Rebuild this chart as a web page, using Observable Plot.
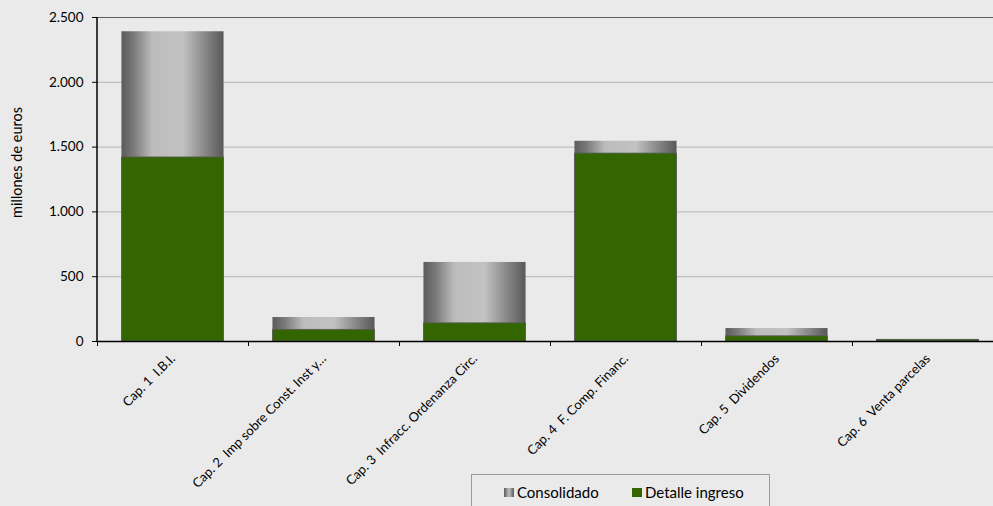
<!DOCTYPE html>
<html>
<head>
<meta charset="utf-8">
<script src="https://cdn.jsdelivr.net/npm/d3@7"></script>
<script src="https://cdn.jsdelivr.net/npm/@observablehq/plot@0.6"></script>
<style>
  html, body { margin: 0; padding: 0; background: #eaeaea; }
  #wrap { position: relative; width: 993px; height: 506px; overflow: hidden; font-family: Lato, "Open Sans", sans-serif; }
  #wrap svg text { white-space: pre; }
  #legend { position: absolute; left: 471px; top: 474px; width: 297px; height: 40px; border: 1px solid #9a9a9a; background: #eaeaea; font-size: 15px; color: #000; }
  #legend .item { position: absolute; top: 8px; display: flex; align-items: center; white-space: nowrap; }
  #legend .sw { width: 10px; height: 9px; margin-right: 3px; }
</style>
</head>
<body>
<div id="wrap"></div>
<script>
const categories = ["Cap. 1  I.B.I.", "Cap. 2  Imp sobre Const. Inst y…", "Cap. 3  Infracc. Ordenanza Circ.", "Cap. 4  F. Comp. Financ.", "Cap. 5  Dividendos", "Cap. 6  Venta parcelas"];
const consolidado = [2390, 185, 610, 1545, 100, 15];
const detalle = [1420, 90, 140, 1450, 40, 13];
const yTicks = [0, 500, 1000, 1500, 2000, 2500];
const seriesNames = ["Consolidado", "Detalle ingreso"];
const yLabel = "millones de euros";

const data = categories.map((c, i) => ({cat: c, consolidado: consolidado[i], detalle: detalle[i]}));
const es = d3.formatLocale({decimal: ",", thousands: ".", grouping: [3], currency: ["", "€"]});
const fmt = es.format(",");

const W = 993, H = 506, ML = 97, MR = -10, MT = 17, MB = 165;
const band = (W - ML - MR) / categories.length;
const inset = band * 0.162;

const chart = Plot.plot({
  width: W, height: H,
  marginLeft: ML, marginRight: MR, marginTop: MT, marginBottom: MB,
  style: {background: "#eaeaea", overflow: "visible", fontFamily: "Lato, 'Open Sans', sans-serif", fontSize: "13px", color: "#000"},
  x: {domain: categories, padding: 0, label: null},
  y: {domain: [0, 2500], label: null},
  marks: [
    Plot.ruleY(yTicks.filter(d => d > 0 && d < 2500), {stroke: "#b4b4b4", strokeWidth: 1}),
    Plot.ruleY([2500], {stroke: "#5e5e5e", strokeWidth: 1.2}),
    Plot.barY(data, {x: "cat", y: "consolidado", fill: "url(#grayGrad)", insetLeft: inset, insetRight: inset}),
    Plot.barY(data, {x: "cat", y: "detalle", fill: "#336600", stroke: "#5a5a5a", strokeWidth: 0.8, insetLeft: inset, insetRight: inset}),
    Plot.ruleY([0], {stroke: "#000", strokeWidth: 1.5}),
    Plot.axisY({ticks: yTicks, tickFormat: fmt, tickSize: 5, tickPadding: 9, fontSize: 13.5, stroke: "#000"}),
    Plot.ruleX(categories, {x: d => d, y1: 0, y2: 0, insetBottom: -5, dx: -band / 2, stroke: "#000"}),
    Plot.axisX({tickSize: 0, tickRotate: -45, tickPadding: 15, fontSize: 13}),
    Plot.text([yLabel], {frameAnchor: "left", text: d => d, rotate: -90, textAnchor: "middle", dx: -80, dy: -17, fontSize: 14.5})
  ]
});

// left axis line
d3.select(chart).append("line")
  .attr("x1", ML).attr("x2", ML).attr("y1", MT).attr("y2", H - MB)
  .attr("stroke", "#000").attr("stroke-width", 1.5);

const defs = d3.select(chart).insert("defs", ":first-child");
const g = defs.append("linearGradient").attr("id", "grayGrad").attr("x1", 0).attr("x2", 1).attr("y1", 0).attr("y2", 0);
[[0, "#5b5b5b"], [0.12, "#7a7a7a"], [0.3, "#bcbcbc"], [0.6, "#c2c2c2"], [0.8, "#8c8c8c"], [1, "#585858"]]
  .forEach(([o, c]) => g.append("stop").attr("offset", o).attr("stop-color", c));

const wrap = document.getElementById("wrap");
wrap.appendChild(chart);

const legend = document.createElement("div");
legend.id = "legend";
legend.innerHTML = `
  <div class="item" style="left:32px"><div class="sw" style="background:linear-gradient(to right,#5b5b5b,#c0c0c0 50%,#5b5b5b)"></div>${seriesNames[0]}</div>
  <div class="item" style="left:160px"><div class="sw" style="background:#336600"></div>${seriesNames[1]}</div>`;
wrap.appendChild(legend);
</script>
</body>
</html>
